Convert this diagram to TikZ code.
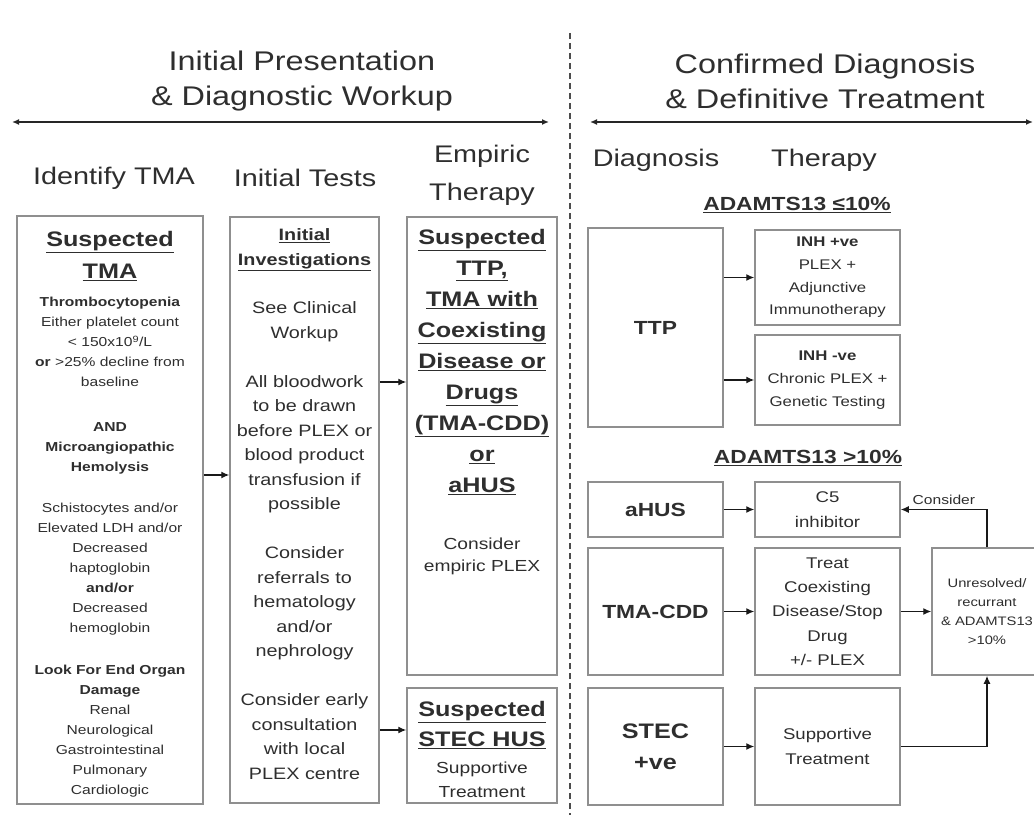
\documentclass[tikz,border=0pt]{standalone}
\usepackage{fontspec}
\setmainfont[FakeStretch=1.2]{Liberation Sans}
\usepackage{tikz}
\usetikzlibrary{calc,arrows,arrows.meta,positioning}
\definecolor{txtgrey}{HTML}{2E2E2E}
\definecolor{boxgrey}{HTML}{8F8F8F}
\newcommand{\fsz}[2]{\fontsize{#1}{#2}\selectfont}

\begin{document}
\begin{tikzpicture}[x=1pt,y=-1pt,>={Latex[length=8pt,width=7pt]},every node/.style={text=txtgrey,align=center,inner sep=0pt}]

\tikzset{box/.style={draw=boxgrey,line width=1.5pt,inner sep=0pt},
arr/.style={->,line width=1.3pt,draw=black!90},
hdr/.style={font=\fsz{27}{35}},
colhdr/.style={font=\fsz{24}{38}},
titletext/.style={font=\bfseries\fsz{21}{31}},
diag/.style={font=\bfseries\fsz{19}{23}}}

\useasboundingbox (0,0) rectangle (1034,826);

% Headers
\node[hdr] (hdrLeft) at (302,81) {Initial Presentation\\\& Diagnostic Workup};
\node[hdr] (hdrRight) at (825,81) {Confirmed Diagnosis\\\& Definitive Treatment};
\coordinate (leftA) at (12,122); \coordinate (leftB) at (549,122);
\coordinate (rightA) at (590,122); \coordinate (rightB) at (1033,122);
\draw[{Latex[length=7pt,width=6pt]}-{Latex[length=7pt,width=6pt]},line width=2pt,black!85] (leftA) -- (leftB);
\draw[{Latex[length=7pt,width=6pt]}-{Latex[length=7pt,width=6pt]},line width=2pt,black!85] (rightA) -- (rightB);
\coordinate (dashTop) at (570,33); \coordinate (dashBot) at (570,815);
\draw[dash pattern=on 6pt off 4pt,line width=1.5pt,black!70] (dashTop) -- (dashBot);

% Column headers
\node[colhdr] (colA) at (114,178) {Identify TMA};
\node[colhdr] (colB) at (305,178) {Initial Tests};
\node[colhdr] (colC) at (482,175) {Empiric\\Therapy};
\node[colhdr] (colD) at (656,160) {Diagnosis};
\node[colhdr] (colE) at (824,160) {Therapy};

% Identify TMA
\node[box,minimum width=186pt,minimum height=588pt] (tma) at (110,510) {};
\node[titletext,font=\bfseries\fsz{21}{32}] (tmaTitle) at (110,256) {\underline{Suspected}\\\underline{TMA}};
\node[font=\fsz{13}{20}] (tmaText) at (110,547) {\textbf{Thrombocytopenia}\\Either platelet count\\< 150x10\textsuperscript{9}/L\\\textbf{or} >25\% decline from\\baseline\\[25pt]\textbf{AND}\\\textbf{Microangiopathic}\\\textbf{Hemolysis}\\[21pt]Schistocytes and/or\\Elevated LDH and/or\\Decreased\\haptoglobin\\\textbf{and/or}\\Decreased\\hemoglobin\\[22pt]\textbf{Look For End Organ}\\\textbf{Damage}\\Renal\\Neurological\\Gastrointestinal\\Pulmonary\\Cardiologic};

% Initial tests
\node[box,minimum width=149pt,minimum height=586pt] (inv) at (304.5,510) {};
\node[font=\bfseries\fsz{16.5}{25}] (invTitle) at (304.5,249.5) {\underline{Initial}\\\underline{Investigations}};
\node[font=\fsz{16.5}{24.5}] (invText) at (304.5,540.5) {See Clinical\\Workup\\[24.5pt]All bloodwork\\to be drawn\\before PLEX or\\blood product\\transfusion if\\possible\\[24.5pt]Consider\\referrals to\\hematology\\and/or\\nephrology\\[24.5pt]Consider early\\consultation\\with local\\PLEX centre};

% Empiric therapy
\node[box,minimum width=150pt,minimum height=458pt] (emp) at (482,446) {};
\node[titletext] (empTitle) at (482,362) {\underline{Suspected}\\\underline{TTP,}\\\underline{TMA with}\\\underline{Coexisting}\\\underline{Disease or}\\\underline{Drugs}\\\underline{(TMA-CDD)}\\\underline{or}\\\underline{aHUS}};
\node[font=\fsz{16}{22}] (empText) at (482,556) {Consider\\empiric PLEX};
\node[box,minimum width=150pt,minimum height=115pt] (stecHus) at (482,745.5) {};
\node[titletext,font=\bfseries\fsz{21}{30}] (stecHusTitle) at (482,725) {\underline{Suspected}\\\underline{STEC HUS}};
\node[font=\fsz{16}{24}] (stecHusText) at (482,780) {Supportive\\Treatment};

\draw[arr] ($(tma.east)+(0,-35)$) -- ($(inv.west)+(0,-35)$);
\draw[arr] (inv.east |- 0,382) -- (emp.west |- 0,382);
\draw[arr] (inv.east |- 0,730) -- (stecHus.west |- 0,730);

% ADAMTS13 <= 10%
\node[diag] (lowLbl) at (797,205) {\underline{ADAMTS13 ≤10\%}};
\node[box,diag,minimum width=135pt,minimum height=199pt] (ttp) at (655.5,327.5) {TTP};
\node[box,minimum width=145pt,minimum height=95pt,font=\fsz{14}{22.7}] (inhPos) at (827.5,277.5) {\textbf{INH +ve}\\PLEX +\\Adjunctive\\Immunotherapy};
\node[box,minimum width=145pt,minimum height=90pt,font=\fsz{14}{22.7}] (inhNeg) at (827.5,380) {\textbf{INH -ve}\\Chronic PLEX +\\Genetic Testing};
\draw[arr] (inhPos.west -| ttp.east) -- (inhPos.west);
\draw[arr] (inhNeg.west -| ttp.east) -- (inhNeg.west);

% ADAMTS13 > 10%
\node[diag] (highLbl) at (808,458) {\underline{ADAMTS13 >10\%}};
\node[box,diag,minimum width=135pt,minimum height=55pt] (ahus) at (655.5,509.5) {aHUS};
\node[box,minimum width=145pt,minimum height=55pt,font=\fsz{15.5}{25}] (cFive) at (827.5,509.5) {C5\\inhibitor};
\node[box,diag,minimum width=135pt,minimum height=127pt] (tmaCdd) at (655.5,611.5) {TMA-CDD};
\node[box,minimum width=145pt,minimum height=127pt,font=\fsz{15.5}{24.25}] (treat) at (827.5,611.5) {Treat\\Coexisting\\Disease/Stop\\Drug\\+/- PLEX};
\node[box,minimum width=110pt,minimum height=127pt,font=\fsz{12.3}{19}] (unres) at (987,611.5) {Unresolved/\\recurrant\\\& ADAMTS13\\>10\%};
\node[box,font=\bfseries\fsz{21}{31},minimum width=135pt,minimum height=117pt] (stec) at (655.5,746.5) {STEC\\+ve};
\node[box,minimum width=145pt,minimum height=117pt,font=\fsz{15.5}{25}] (supp) at (827.5,746.5) {Supportive\\Treatment};

\draw[arr] (ahus) -- (cFive);
\draw[arr] (tmaCdd) -- (treat);
\draw[arr] (stec) -- (supp);
\draw[arr] (treat) -- (unres);
\draw[arr] (supp.east) -| (unres.south);
\draw[arr] (unres.north) |- node[pos=0.75,above=4pt,font=\fsz{13}{15}] (considerLbl) {Consider} (cFive.east);

\end{tikzpicture}
\end{document}
